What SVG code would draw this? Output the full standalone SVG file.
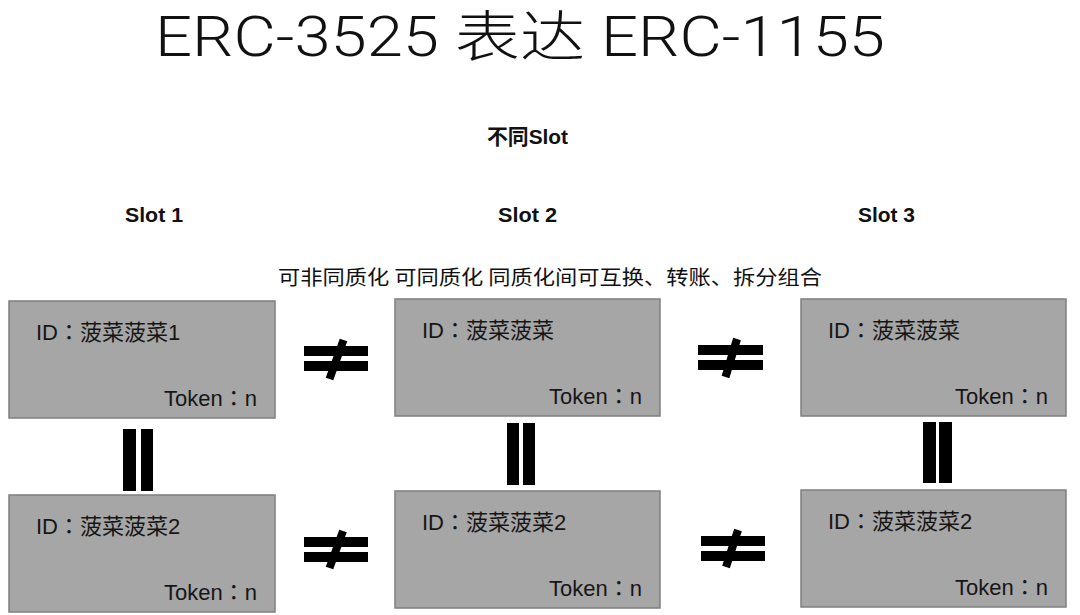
<svg xmlns="http://www.w3.org/2000/svg" width="1080" height="615" viewBox="0 0 1080 615">
<style>
.bg{fill:#ffffff}
.box{fill:#a6a6a6;stroke:#7f7f7f;stroke-width:1.5}
.t{font-family:"Liberation Sans","Noto Sans CJK JP",sans-serif;font-size:22px;fill:#161616}
.r{text-anchor:end}
.title{font-family:Roboto,"Noto Sans CJK SC",sans-serif;font-weight:300;font-size:55px;fill:#111}
.h{font-family:"Liberation Sans","Noto Sans CJK SC",sans-serif;font-weight:bold;font-size:21px;fill:#111}
.sub{font-family:"Noto Sans CJK SC","Liberation Sans",sans-serif;font-size:20px;fill:#111}
.bar{fill:#000}
.slash{stroke:#000;stroke-width:8;stroke-linecap:butt}
</style>
<rect class="bg" x="0" y="0" width="1080" height="615"/>
<g id="title">
<text class="title" x="155" y="56" textLength="730" lengthAdjust="spacingAndGlyphs">ERC-3525 表达 ERC-1155</text>
</g>
<g id="headers">
<text class="h" x="487" y="144" textLength="81" lengthAdjust="spacingAndGlyphs">不同Slot</text>
<text class="h" x="125" y="222" textLength="58" lengthAdjust="spacingAndGlyphs">Slot 1</text>
<text class="h" x="498" y="222" textLength="59" lengthAdjust="spacingAndGlyphs">Slot 2</text>
<text class="h" x="858" y="222" textLength="57" lengthAdjust="spacingAndGlyphs">Slot 3</text>
<text class="sub" x="278" y="285" textLength="544" lengthAdjust="spacingAndGlyphs">可非同质化 可同质化 同质化间可互换、转账、拆分组合</text>
</g>
<g id="node-s1-a">
<rect class="box" x="9" y="301" width="266" height="117"/>
<text class="t" x="36" y="340">ID：菠菜菠菜1</text>
<text class="t r" x="257" y="406">Token：n</text>
</g>
<g id="node-s2-a">
<rect class="box" x="395" y="299" width="265" height="117"/>
<text class="t" x="422" y="338">ID：菠菜菠菜</text>
<text class="t r" x="642" y="404">Token：n</text>
</g>
<g id="node-s3-a">
<rect class="box" x="801" y="299" width="265" height="117"/>
<text class="t" x="828" y="338">ID：菠菜菠菜</text>
<text class="t r" x="1048" y="404">Token：n</text>
</g>
<g id="node-s1-b">
<rect class="box" x="9" y="495" width="266" height="117"/>
<text class="t" x="36" y="534">ID：菠菜菠菜2</text>
<text class="t r" x="257" y="600">Token：n</text>
</g>
<g id="node-s2-b">
<rect class="box" x="395" y="491" width="265" height="117"/>
<text class="t" x="422" y="530">ID：菠菜菠菜2</text>
<text class="t r" x="642" y="596">Token：n</text>
</g>
<g id="node-s3-b">
<rect class="box" x="801" y="490" width="265" height="117"/>
<text class="t" x="828" y="529">ID：菠菜菠菜2</text>
<text class="t r" x="1048" y="595">Token：n</text>
</g>
<g id="connectors">
<g id="neq-top-1">
<rect class="bar" x="304" y="346" width="64" height="10"/>
<rect class="bar" x="304" y="361" width="64" height="10"/>
<line class="slash" x1="343.5" y1="340" x2="329.5" y2="379"/>
</g>
<g id="neq-top-2">
<rect class="bar" x="698" y="345" width="65" height="10"/>
<rect class="bar" x="698" y="360" width="65" height="10"/>
<line class="slash" x1="737" y1="339" x2="725.5" y2="377"/>
</g>
<g id="neq-bot-1">
<rect class="bar" x="304" y="537" width="64" height="10"/>
<rect class="bar" x="304" y="552" width="64" height="10"/>
<line class="slash" x1="343" y1="531" x2="329.5" y2="568"/>
</g>
<g id="neq-bot-2">
<rect class="bar" x="701" y="536" width="64" height="10"/>
<rect class="bar" x="701" y="551" width="64" height="10"/>
<line class="slash" x1="738" y1="530" x2="726" y2="567"/>
</g>
<g id="eq-1">
<rect class="bar" x="123" y="429" width="13" height="62"/>
<rect class="bar" x="141" y="429" width="12" height="62"/>
</g>
<g id="eq-2">
<rect class="bar" x="507" y="423" width="12" height="62"/>
<rect class="bar" x="523" y="423" width="12" height="62"/>
</g>
<g id="eq-3">
<rect class="bar" x="923" y="422" width="13" height="61"/>
<rect class="bar" x="939" y="422" width="13" height="61"/>
</g>
</g>
</svg>
